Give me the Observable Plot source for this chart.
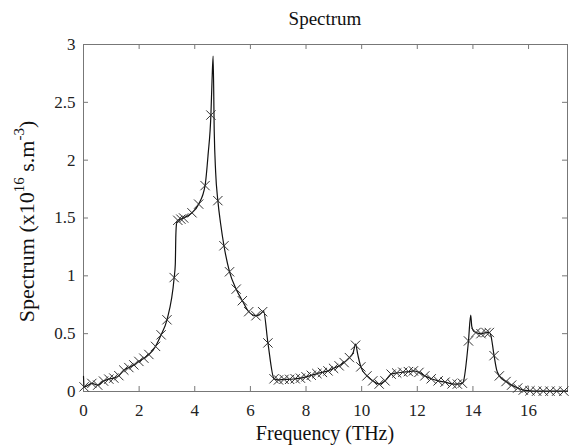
<!DOCTYPE html>
<html><head><meta charset="utf-8">
<script src="https://cdn.jsdelivr.net/npm/d3@7"></script>
<script src="https://cdn.jsdelivr.net/npm/@observablehq/plot@0.6"></script>
<style>body{margin:0;background:#fff}</style>
</head><body><div id="chart"></div>
<script>
const title = "Spectrum";
const xLabel = "Frequency (THz)";
const yLabelMain = "Spectrum (x10";
const yLabelSup1 = "16";
const yLabelMid = " s.m";
const yLabelSup2 = "-3";
const yLabelEnd = ")";
const xTicks = [0, 2, 4, 6, 8, 10, 12, 14, 16];
const yTicks = [0, 0.5, 1, 1.5, 2, 2.5, 3];
const yTickLabels = ["0", "0.5", "1", "1.5", "2", "2.5", "3"];

// dense curve (solid line)
const curveFreq = [0, 0.02, 0.30, 0.51, 0.72, 0.91, 1.09, 1.27, 1.45, 1.63, 1.81, 1.99, 2.17, 2.35, 2.59, 2.79, 3.00, 3.26, 3.30, 3.32, 3.35, 3.39, 3.50, 3.60, 3.90, 4.14, 4.37, 4.48, 4.58, 4.62, 4.66, 4.70, 4.75, 4.83, 4.93, 5.05, 5.25, 5.49, 5.71, 5.94, 6.20, 6.44, 6.47, 6.63, 6.85, 7.01, 7.21, 7.41, 7.61, 7.80, 8.00, 8.19, 8.39, 8.59, 8.79, 8.99, 9.19, 9.37, 9.56, 9.70, 9.78, 9.86, 9.97, 10.19, 10.40, 10.63, 10.84, 11.06, 11.26, 11.48, 11.68, 11.86, 12.06, 12.27, 12.50, 12.75, 13.00, 13.25, 13.44, 13.62, 13.65, 13.84, 13.92, 13.96, 14.03, 14.11, 14.29, 14.47, 14.59, 14.64, 14.76, 14.85, 14.95, 15.19, 15.39, 15.61, 15.81, 16.05, 16.29, 16.53, 16.77, 17.01, 17.27, 17.40];
const curveValue = [0.13, 0.04, 0.07, 0.055, 0.09, 0.107, 0.116, 0.137, 0.185, 0.207, 0.23, 0.26, 0.288, 0.32, 0.39, 0.49, 0.62, 0.985, 1.10, 1.35, 1.46, 1.48, 1.49, 1.50, 1.545, 1.62, 1.78, 2.05, 2.39, 2.68, 2.90, 2.25, 1.90, 1.65, 1.45, 1.26, 1.035, 0.885, 0.785, 0.69, 0.655, 0.69, 0.70, 0.42, 0.11, 0.10, 0.105, 0.105, 0.11, 0.115, 0.127, 0.14, 0.155, 0.165, 0.178, 0.20, 0.222, 0.25, 0.293, 0.34, 0.41, 0.32, 0.213, 0.135, 0.092, 0.064, 0.092, 0.15, 0.16, 0.167, 0.172, 0.178, 0.165, 0.135, 0.11, 0.092, 0.081, 0.066, 0.064, 0.072, 0.08, 0.437, 0.66, 0.56, 0.52, 0.51, 0.50, 0.51, 0.51, 0.49, 0.31, 0.19, 0.135, 0.086, 0.055, 0.03, 0.012, 0.006, 0.003, 0.003, 0.003, 0.003, 0.003, 0.003];

// "x" markers
const markerFreq = [0.02, 0.30, 0.51, 0.72, 0.91, 1.09, 1.27, 1.45, 1.63, 1.81, 1.99, 2.17, 2.35, 2.59, 2.79, 3.00, 3.26, 3.39, 3.50, 3.60, 3.90, 4.14, 4.37, 4.58, 4.83, 5.05, 5.25, 5.49, 5.71, 5.94, 6.20, 6.44, 6.63, 6.85, 7.01, 7.21, 7.41, 7.61, 7.80, 8.00, 8.19, 8.39, 8.59, 8.79, 8.99, 9.19, 9.37, 9.56, 9.78, 9.97, 10.19, 10.40, 10.63, 10.84, 11.06, 11.26, 11.48, 11.68, 11.86, 12.06, 12.27, 12.50, 12.75, 13.00, 13.25, 13.44, 13.62, 13.84, 14.11, 14.29, 14.47, 14.59, 14.76, 14.95, 15.19, 15.39, 15.61, 15.81, 16.05, 16.29, 16.53, 16.77, 17.01, 17.27];
const markerValue = [0.04, 0.07, 0.055, 0.09, 0.107, 0.116, 0.137, 0.185, 0.207, 0.23, 0.26, 0.288, 0.32, 0.39, 0.49, 0.62, 0.985, 1.48, 1.49, 1.50, 1.545, 1.62, 1.78, 2.39, 1.65, 1.26, 1.035, 0.885, 0.785, 0.69, 0.655, 0.69, 0.42, 0.11, 0.10, 0.105, 0.105, 0.11, 0.115, 0.127, 0.14, 0.155, 0.165, 0.178, 0.20, 0.222, 0.25, 0.293, 0.40, 0.213, 0.135, 0.092, 0.064, 0.092, 0.15, 0.16, 0.167, 0.172, 0.178, 0.165, 0.135, 0.11, 0.092, 0.081, 0.066, 0.064, 0.072, 0.437, 0.51, 0.50, 0.51, 0.51, 0.31, 0.135, 0.086, 0.055, 0.03, 0.012, 0.006, 0.003, 0.003, 0.003, 0.003, 0.003];

const curve = curveFreq.map((f, i) => ({f, v: curveValue[i]}));
const markers = markerFreq.map((f, i) => ({f, v: markerValue[i]}));

const W = 569, H = 448, mL = 83, mR = 2, mT = 44, mB = 57;
const fw = W - mL - mR, fh = H - mT - mB, tk = 5;
const axisColor = "#777";

const plot = Plot.plot({
  width: W, height: H,
  marginLeft: mL, marginRight: mR, marginTop: mT, marginBottom: mB,
  style: {fontFamily: "'Liberation Serif', 'Times New Roman', serif", fontSize: "17px", background: "#fff", color: "#222"},
  x: {domain: [0, 17.4]},
  y: {domain: [0, 3]},
  marks: [
    Plot.ruleX(xTicks, {x: d => d, insetTop: fh - tk, stroke: axisColor}),
    Plot.ruleX(xTicks, {x: d => d, insetBottom: fh - tk, stroke: axisColor}),
    Plot.ruleY(yTicks, {y: d => d, insetRight: fw - tk, stroke: axisColor}),
    Plot.ruleY(yTicks, {y: d => d, insetLeft: fw - tk, stroke: axisColor}),
    Plot.frame({stroke: axisColor}),
    Plot.axisX({ticks: xTicks, tickSize: 0, tickPadding: 12, label: null, tickFormat: d => String(d)}),
    Plot.axisY({ticks: yTicks, tickSize: 0, tickPadding: 8, label: null, tickFormat: d => yTickLabels[yTicks.indexOf(d)]}),
    Plot.line(curve, {x: "f", y: "v", stroke: "#111", strokeWidth: 1.2, curve: "monotone-x"}),
    Plot.dot(markers, {x: "f", y: "v", symbol: "times", r: 4.3, stroke: "#333", strokeWidth: 1})
  ]
});

const svg = d3.select(plot);
const cx = mL + fw / 2;
svg.append("text").attr("x", cx).attr("y", 25).attr("text-anchor", "middle")
  .style("font-size", "19px").attr("fill", "#111").text(title);
svg.append("text").attr("x", cx).attr("y", 440).attr("text-anchor", "middle")
  .style("font-size", "20px").attr("fill", "#111").text(xLabel);
const yl = svg.append("text").attr("transform", `translate(34,${mT + fh / 2 + 4}) rotate(-90)`)
  .attr("text-anchor", "middle").style("font-size", "22px").style("white-space", "pre").attr("fill", "#111");
yl.append("tspan").text(yLabelMain);
yl.append("tspan").attr("dy", -10).style("font-size", "15px").text(yLabelSup1);
yl.append("tspan").attr("dy", 10).text(yLabelMid);
yl.append("tspan").attr("dy", -10).style("font-size", "15px").text(yLabelSup2);
yl.append("tspan").attr("dy", 10).text(yLabelEnd);

document.getElementById("chart").appendChild(plot);
</script>
</body></html>
